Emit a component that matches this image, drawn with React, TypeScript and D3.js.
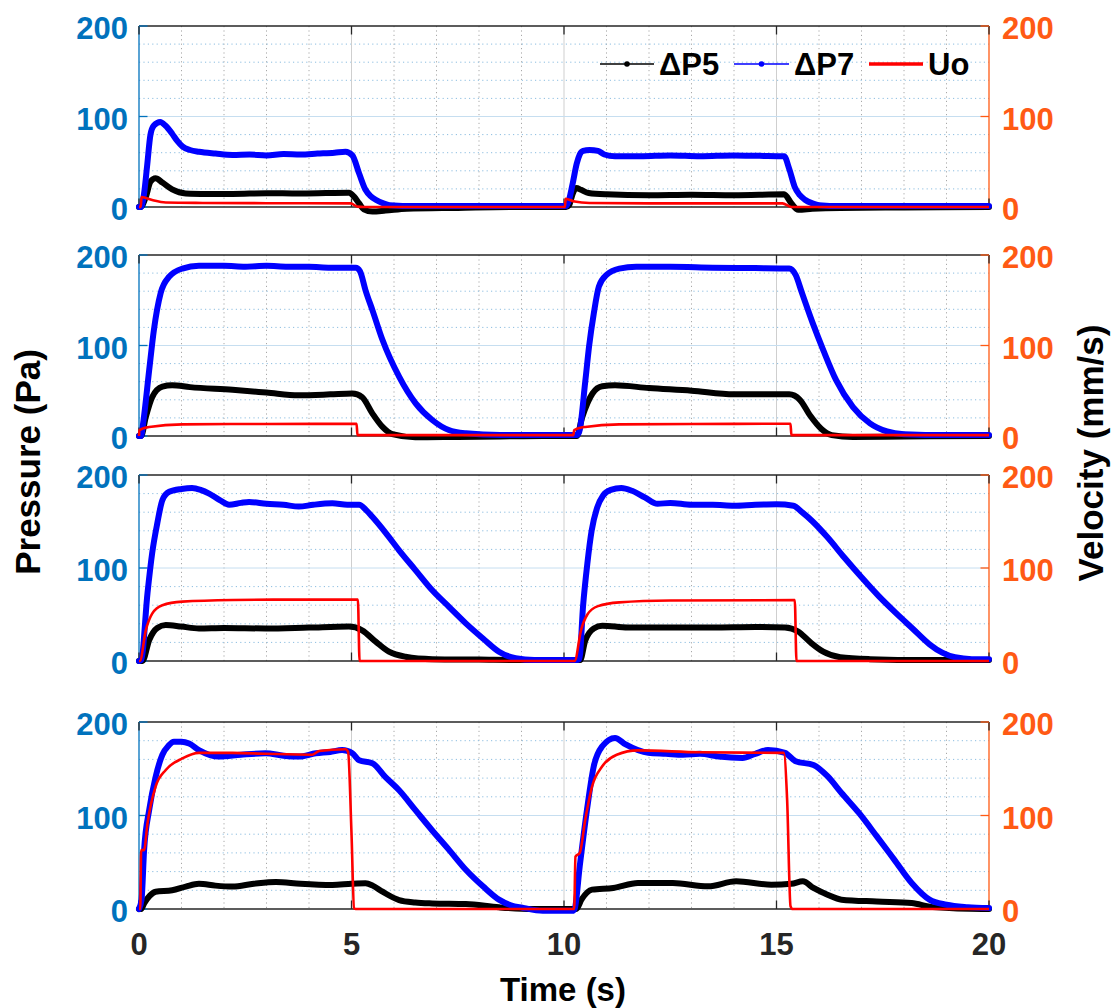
import React from 'react';
import * as d3 from 'd3';

type Pt = [number, number];

const xTicks = [0, 5, 10, 15, 20];
const yTicks = [0, 100, 200];
const legendLabels = ['ΔP5', 'ΔP7', 'Uo'];
const xLabel = 'Time (s)';
const yLeftLabel = 'Pressure (Pa)';
const yRightLabel = 'Velocity (mm/s)';

// ---------- Panel 1 ----------
const p1DP5: Pt[] = [[0,0],[0.04,0],[0.16,11],[0.27,28],[0.39,31.7],[0.55,27],[0.78,19.5],[1.1,15],[1.6,14.5],[2.2,14.4],[3,15.2],[3.76,15],[4.4,15.4],[4.94,15.8],[5.06,11.4],[5.18,4],[5.29,-2.6],[5.49,-5],[5.8,-4],[6.3,-2],[7.5,-1],[9,0],[10.05,0],
  [10.12,2],[10.2,14],[10.29,21],[10.4,19],[10.58,15.5],[11,14],[12,13],[13,13.5],[14,13],[15.18,14],[15.35,4],[15.51,-3],[15.84,-2],[16.5,-1],[18,-0.5],[20,0]];
const p1DP7: Pt[] = [[0,0],[0.05,0],[0.12,15],[0.19,45],[0.27,80],[0.35,90],[0.5,94],[0.62,90],[0.78,81],[0.9,73],[1.02,67],[1.2,63],[1.41,61],[1.8,59],[2.2,57.5],[2.6,58],[3.0,57],[3.4,58.5],[3.8,58],[4.2,59],[4.6,60],[4.86,61],[5.02,57],[5.18,37],[5.33,19],[5.45,12],[5.57,8],[5.75,4],[5.9,2],[6.5,1],[7.5,1],[8.5,1],[9.5,1],[10.05,1],
  [10.1,5],[10.2,25],[10.3,48],[10.37,58],[10.45,62],[10.6,63],[10.8,62],[10.95,58],[11.2,56],[11.8,56],[12.5,57],[13.2,56],[14,57],[14.6,56.5],[15.18,56],[15.3,42],[15.43,22],[15.55,13],[15.67,8],[15.85,4],[16,2],[16.5,1],[17.5,1],[18.5,1],[20,1]];
const p1Uo: Pt[] = [[0,0],[0.04,0],[0.06,11],[0.31,7.7],[0.63,5],[1.5,4.5],[3,4.2],[4.98,4],[5.14,0.4],[5.3,0],[10.02,0],[10.04,9],[10.25,6],[10.6,4.5],[12,4],[15.14,4],[15.35,0],[20,0]];

// ---------- Panel 2 ----------
const p2DP5: Pt[] = [[0,0],[0.05,0],[0.16,21],[0.31,43],[0.55,54.5],[0.78,56],[1.2,54],[2.2,51],[3,48],[3.76,45],[4.5,46],[5.02,47],[5.25,43],[5.49,25],[5.73,10],[5.96,2],[6.5,-1.5],[7.5,-1],[8.5,-0.5],[9.5,0],[10.3,0],
  [10.43,21],[10.67,47],[10.9,55],[11.2,56],[12,53],[13,50],[14,46],[15,46],[15.3,46],[15.55,40],[15.8,22],[16.05,8],[16.3,1],[16.8,-1],[18,-0.5],[20,0]];
const p2DP7: Pt[] = [[0,0],[0.05,0],[0.1,15],[0.24,73],[0.35,117],[0.51,158],[0.71,176],[1.02,185],[1.41,188],[2,188],[2.5,187],[3,188],[3.5,187],[4,187],[4.5,186],[5.1,186],[5.2,182],[5.33,161],[5.5,138],[5.73,106],[6.12,65.5],[6.51,36],[6.9,17.7],[7.29,6.6],[7.69,3],[8.5,1],[9.5,1],[10.3,1],
  [10.36,5],[10.5,60],[10.59,99],[10.7,135],[10.82,165],[11.0,178],[11.3,185],[11.7,187],[12.5,187],[13.5,186],[14.5,185.5],[15.3,185],[15.45,178],[15.6,158],[15.85,125],[16.1,95],[16.4,62],[16.8,32],[17.2,14],[17.6,5],[18,2],[19,1],[20,1]];
const p2Uo: Pt[] = [[0,0],[0.01,6.6],[0.24,10],[1.02,12.9],[2.98,13.3],[5.12,13.5],[5.14,1],[10.22,1],[10.24,6.6],[10.5,10],[11.3,12.9],[13,13.3],[15.33,13.5],[15.35,1],[20,1]];

// ---------- Panel 3 ----------
const p3DP5: Pt[] = [[0,0],[0.08,0],[0.24,22.6],[0.43,35.5],[0.63,38.7],[1.0,37],[1.41,35],[2,35.5],[2.98,35],[4,36],[4.94,37],[5.25,33],[5.57,20.8],[5.88,10],[6.27,4.6],[6.9,2],[8,1.5],[9,1],[10.3,1],
  [10.38,1],[10.5,22],[10.7,35],[10.9,38],[11.5,36],[12.5,36],[13.5,36],[14.5,36.5],[15.2,36],[15.5,32],[15.8,20],[16.1,10],[16.5,4],[17.2,2],[18.5,1],[20,1]];
const p3DP7: Pt[] = [[0,0],[0.05,1],[0.2,73],[0.31,116],[0.43,148],[0.55,173],[0.71,182],[1.0,185],[1.25,186],[1.45,184],[1.65,180],[1.9,173],[2.12,168],[2.4,170],[2.59,171],[3.0,169],[3.4,168],[3.76,166],[4.1,168],[4.55,169.5],[4.9,168],[5.18,168],[5.35,162],[5.49,155],[5.8,138],[6.12,119],[6.5,98],[6.9,76],[7.3,58],[7.69,40.5],[8.1,24],[8.47,10],[8.86,3],[9.3,1],[9.8,1],[10.3,1],
  [10.36,2],[10.45,60],[10.55,105],[10.65,140],[10.78,165],[10.92,178],[11.1,184],[11.35,186],[11.6,183],[11.9,176],[12.2,169],[12.5,170],[13,168],[13.5,168],[14,167],[14.5,168],[15,168.5],[15.4,167],[15.6,160],[15.85,150],[16.2,133],[16.6,111],[17,90],[17.4,70],[17.8,52],[18.2,35],[18.6,18],[18.9,9],[19.2,4],[19.6,2],[20,2]];
const p3Uo: Pt[] = [[0,0],[0.02,0],[0.16,33],[0.31,51],[0.55,60],[1.02,63.8],[2.2,65.6],[3.5,66],[5.15,66],[5.19,0],[10.25,0],[10.4,33],[10.55,50],[10.8,59],[11.3,63],[12.5,65],[15.43,65.5],[15.47,0],[20,0]];

// ---------- Panel 4 ----------
const p4DP5: Pt[] = [[0,0],[0.05,0],[0.12,6],[0.25,14],[0.39,18.5],[0.78,20],[1.1,24],[1.41,27],[1.8,25],[2.2,24],[2.7,27],[3.22,29],[3.8,27],[4.55,25.7],[5.0,27],[5.33,27.5],[5.5,25],[5.73,18.5],[6.12,9.6],[6.5,7],[6.9,6],[7.69,5.3],[8.47,1.8],[9.25,0],[10.25,0],
  [10.29,0],[10.41,10],[10.66,20.7],[11.16,22.5],[11.74,27.8],[12.56,27.8],[13.39,24.2],[14.05,29.6],[14.88,26],[15.35,27],[15.62,29.6],[15.87,22.5],[16.2,15.3],[16.53,10],[17.36,8],[18.18,6.4],[18.68,2],[19.83,0],[20,0]];
const p4DP7: Pt[] = [[0,0],[0.06,10],[0.12,63],[0.24,106],[0.39,141],[0.55,165],[0.7,175],[0.82,179],[1.0,179],[1.18,177],[1.41,170],[1.88,163],[2.4,165],[2.98,166.5],[3.4,164],[3.76,163],[4.16,166.5],[4.5,168],[4.78,170],[5.02,166.5],[5.18,159],[5.49,156],[5.8,141],[6.12,127],[6.5,106],[6.9,84],[7.3,63],[7.69,42],[8.1,24],[8.47,10],[8.75,4],[9.02,1.4],[9.5,-2],[10.2,-2],
  [10.25,0],[10.37,45.6],[10.54,106],[10.7,152.6],[10.9,174],[11.2,183],[11.45,176],[11.98,167],[12.4,166],[12.8,165],[13.2,166],[13.64,163],[14.2,161.5],[14.5,166],[14.8,170],[15.2,167],[15.45,158],[15.87,154],[16.2,142],[16.53,124],[16.94,102.7],[17.36,77.7],[17.77,52.8],[18.18,27.8],[18.6,10],[19.0,4.6],[19.5,2],[20,1]];
const p4Uo: Pt[] = [[0,0],[0.03,0],[0.05,63],[0.12,63],[0.2,91.6],[0.39,130.8],[0.63,148.7],[1.02,161],[1.41,167],[2.2,167],[2.98,166],[4.08,165],[4.24,169],[4.86,170.8],[4.92,168],[5.0,81],[5.06,1],[5.1,0],[10.24,0],
  [10.27,56],[10.37,60],[10.5,95.5],[10.66,131],[10.9,152.6],[11.24,165],[11.74,169.7],[13.2,167.6],[15.17,167],[15.25,117],[15.33,3],[15.38,0],[20,0]];

const panelData = [
  { dp5: p1DP5, dp7: p1DP7, uo: p1Uo },
  { dp5: p2DP5, dp7: p2DP7, uo: p2Uo },
  { dp5: p3DP5, dp7: p3DP7, uo: p3Uo },
  { dp5: p4DP5, dp7: p4DP7, uo: p4Uo },
];

// ---------- layout ----------
const W = 1112, H = 1008;
const LEFT = 139, RIGHT = 989;
const panelTops = [26, 255, 475, 722];
const panelBottoms = [207, 436, 661, 909];
const BLUE_AX = '#0072BD';
const ORANGE_AX = '#FF5A14';
const DARK = '#262626';
const FONT = '"Liberation Sans", Arial, Helvetica, sans-serif';
const TICK = 8.5;

const x = d3.scaleLinear().domain([0, 20]).range([LEFT, RIGHT]);
const minorX = d3.range(0, 21, 1).filter((v) => v % 5 !== 0);
const minorY = d3.range(0, 201, 20).filter((v) => v % 100 !== 0);

function Panel({ idx }: { idx: number }) {
  const top = panelTops[idx], bottom = panelBottoms[idx];
  const yL = d3.scaleLinear().domain([0, 200]).range([bottom, top]);
  const yR = d3.scaleLinear().domain([0, 200]).range([bottom, top]);
  const d = panelData[idx];
  const lineL = d3.line<Pt>().x((p) => x(p[0])).y((p) => yL(p[1])).curve(d3.curveMonotoneX);
  const lineR = d3.line<Pt>().x((p) => x(p[0])).y((p) => yR(p[1])).curve(d3.curveMonotoneX);
  return (
    <g>
      {/* minor grid */}
      {minorX.map((v) => (
        <line key={'mx' + v} x1={x(v)} x2={x(v)} y1={top} y2={bottom} stroke="#a8a8a8" strokeWidth={1} strokeDasharray="1.2,3.2" />
      ))}
      {minorY.map((v) => (
        <line key={'my' + v} x1={LEFT} x2={RIGHT} y1={yL(v)} y2={yL(v)} stroke="#8cbde0" strokeWidth={1} strokeDasharray="1.2,3.2" />
      ))}
      {/* major grid */}
      {xTicks.slice(1, -1).map((v) => (
        <line key={'gx' + v} x1={x(v)} x2={x(v)} y1={top} y2={bottom} stroke="#cfcfcf" strokeWidth={1} />
      ))}
      {yTicks.slice(1, -1).map((v) => (
        <line key={'gy' + v} x1={LEFT} x2={RIGHT} y1={yL(v)} y2={yL(v)} stroke="#c6def0" strokeWidth={1} />
      ))}
      {/* box */}
      <line x1={LEFT} x2={RIGHT} y1={top} y2={top} stroke={DARK} strokeWidth={1.3} />
      <line x1={LEFT} x2={RIGHT} y1={bottom} y2={bottom} stroke={DARK} strokeWidth={1.3} />
      <line x1={LEFT} x2={LEFT} y1={top} y2={bottom} stroke={BLUE_AX} strokeWidth={1.3} />
      <line x1={RIGHT} x2={RIGHT} y1={top} y2={bottom} stroke={ORANGE_AX} strokeWidth={1.3} />
      {/* x ticks */}
      {xTicks.map((v) => (
        <g key={'xt' + v}>
          <line x1={x(v)} x2={x(v)} y1={top} y2={top + TICK} stroke={DARK} strokeWidth={1.3} />
          <line x1={x(v)} x2={x(v)} y1={bottom} y2={bottom - TICK} stroke={DARK} strokeWidth={1.3} />
        </g>
      ))}
      {/* y ticks */}
      {yTicks.map((v) => (
        <g key={'yt' + v}>
          <line x1={LEFT} x2={LEFT + TICK} y1={yL(v)} y2={yL(v)} stroke={BLUE_AX} strokeWidth={1.3} />
          <line x1={RIGHT} x2={RIGHT - TICK} y1={yR(v)} y2={yR(v)} stroke={ORANGE_AX} strokeWidth={1.3} />
          <text x={LEFT - 11} y={yL(v) + 13} textAnchor="end" fontFamily={FONT} fontWeight="bold" fontSize={31} fill={BLUE_AX}>{v}</text>
          <text x={RIGHT + 13} y={yR(v) + 13} textAnchor="start" fontFamily={FONT} fontWeight="bold" fontSize={31} fill={ORANGE_AX}>{v}</text>
        </g>
      ))}
      {/* data */}
      <path d={lineL(d.dp5) || ''} fill="none" stroke="#000" strokeWidth={6} strokeLinejoin="round" strokeLinecap="round" />
      <path d={lineL(d.dp7) || ''} fill="none" stroke="#0000FF" strokeWidth={6} strokeLinejoin="round" strokeLinecap="round" />
      <path d={lineR(d.uo) || ''} fill="none" stroke="#FF0000" strokeWidth={2.6} strokeLinejoin="round" />
      {idx === 3 && xTicks.map((v) => (
        <text key={'xl' + v} x={x(v)} y={bottom + 46} textAnchor="middle" fontFamily={FONT} fontWeight="bold" fontSize={31} fill={DARK}>{v}</text>
      ))}
    </g>
  );
}

function Legend() {
  const ly = 64;
  const items = [
    { x0: 600, x1: 654, tx: 659, color: '#000', w: 1.5, dot: true },
    { x0: 734, x1: 789, tx: 794, color: '#0000FF', w: 1.5, dot: true },
    { x0: 869, x1: 923, tx: 928, color: '#FF0000', w: 3.5, dot: false },
  ];
  return (
    <g>
      {items.map((it, i) => (
        <g key={i}>
          <line x1={it.x0} x2={it.x1} y1={ly} y2={ly} stroke={it.color} strokeWidth={it.w} />
          {it.dot && <circle cx={(it.x0 + it.x1) / 2} cy={ly} r={2.8} fill={it.color} />}
          <text x={it.tx} y={ly + 11} fontFamily={FONT} fontWeight="bold" fontSize={31} fill="#000">{legendLabels[i]}</text>
        </g>
      ))}
    </g>
  );
}

export default function App() {
  return (
    <div style={{ position: 'absolute', left: 0, top: 0 }}>
      <svg width={W} height={H} viewBox={`0 0 ${W} ${H}`} style={{ display: 'block', background: '#fff' }}>
        <rect x={0} y={0} width={W} height={H} fill="#fff" />
        {panelData.map((_, i) => <Panel key={i} idx={i} />)}
        <Legend />
        <text transform="translate(40,462) rotate(-90)" textAnchor="middle" fontFamily={FONT} fontWeight="bold" fontSize={35} fill="#000">{yLeftLabel}</text>
        <text transform="translate(1103,453) rotate(-90)" textAnchor="middle" fontFamily={FONT} fontWeight="bold" fontSize={35} fill="#000">{yRightLabel}</text>
        <text x={563} y={1001} textAnchor="middle" fontFamily={FONT} fontWeight="bold" fontSize={33} fill="#000">{xLabel}</text>
      </svg>
    </div>
  );
}
